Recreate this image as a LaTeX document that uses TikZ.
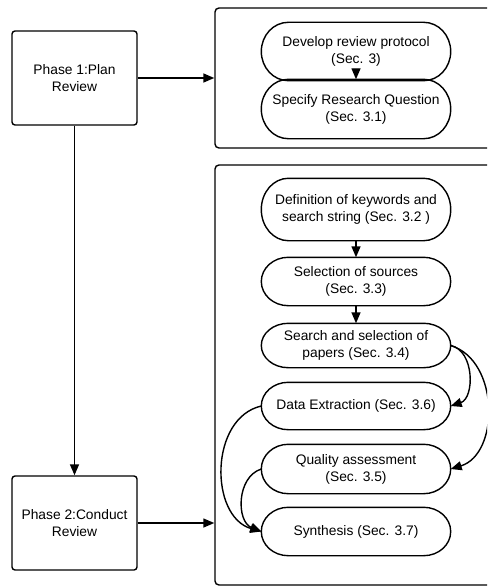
\documentclass[tikz,border=0pt]{standalone}
\usepackage{fontspec}
\setmainfont{Liberation Sans}
\usetikzlibrary{arrows.meta,calc}
\begin{document}
\begin{tikzpicture}[x=1pt,y=-1pt,
  line width=1.4pt,
  every node/.style={font=\fontsize{13.8}{17}\selectfont, align=center, inner sep=0pt},
  phasebox/.style={draw, rectangle, rounded corners=3pt, minimum width=125pt, minimum height=94pt},
  pill/.style={rectangle, minimum width=188pt},
  container/.style={draw, rectangle, rounded corners=4pt},
  arr/.style={-{Triangle[length=11pt,width=9pt]}}
]
\useasboundingbox (0,0) rectangle (487,586);
\clip (0,0) rectangle (487,586);

\node[phasebox] (p1) at (74.5,78) {Phase 1:Plan\\Review};
\node[phasebox] (p2) at (74.5,523) {Phase 2:Conduct\\Review};

\node[container, minimum width=290pt, minimum height=140pt] (c1) at (360,78) {};
\node[container, minimum width=290pt, minimum height=420pt] (c2) at (360,375) {};

\node[pill, minimum height=57pt] (dev) at (356,51.5) {Develop review protocol\\(Sec. 3)};
\node[pill, minimum height=58pt] (spec) at (356,109) {Specify Research Question\\(Sec. 3.1)};

\node[pill, minimum height=61pt] (def) at (356,209.5) {Definition of keywords and\\search string (Sec. 3.2 )};
\node[pill, minimum height=47pt] (sel) at (356,281.5) {Selection of sources\\(Sec. 3.3)};
\node[pill, minimum height=43pt] (search) at (356,345.5) {Search and selection of\\papers (Sec. 3.4)};
\node[pill, minimum height=46pt] (data) at (356,406) {Data Extraction (Sec. 3.6)};
\node[pill, minimum height=48pt] (qual) at (356,469) {Quality assessment\\(Sec. 3.5)};
\node[pill, minimum height=47pt] (syn) at (356,531.5) {Synthesis (Sec. 3.7)};

\foreach \nm in {dev,spec,def,sel,search,data,qual,syn}
  \draw let \p1=(\nm.north east), \p2=(\nm.south west), \n1={(\y1-\y2)/2} in
    ([xshift=27pt]\nm.north west) -- ([xshift=-27pt]\nm.north east)
    arc[start angle=90,end angle=-90,x radius=27pt,y radius=\n1]
    -- ([xshift=27pt]\nm.south west)
    arc[start angle=270,end angle=90,x radius=27pt,y radius=\n1] -- cycle;

\draw[arr] (p1.east) -- (c1.west);
\draw[arr] (p1.south) -- (p2.north);
\draw[arr] (p2.east) -- (p2.east -| c2.west);

\draw[arr] ([yshift=11pt]dev.south) -- (spec.north);
\draw[arr] (def.south) -- (sel.north);
\draw[arr] (sel.south) -- (search.north);

\draw[arr] (search.east) .. controls +(24,5) and +(24,-8) .. (data.east);
\draw[arr] (search.east) .. controls +(49,15) and +(49,-15) .. (qual.east);
\draw[arr] (data.west) .. controls +(-52,12) and +(-52,-15) .. (syn.west);
\draw[arr] (qual.west) .. controls +(-25,8) and +(-25,-10) .. (syn.west);
\end{tikzpicture}
\end{document}
